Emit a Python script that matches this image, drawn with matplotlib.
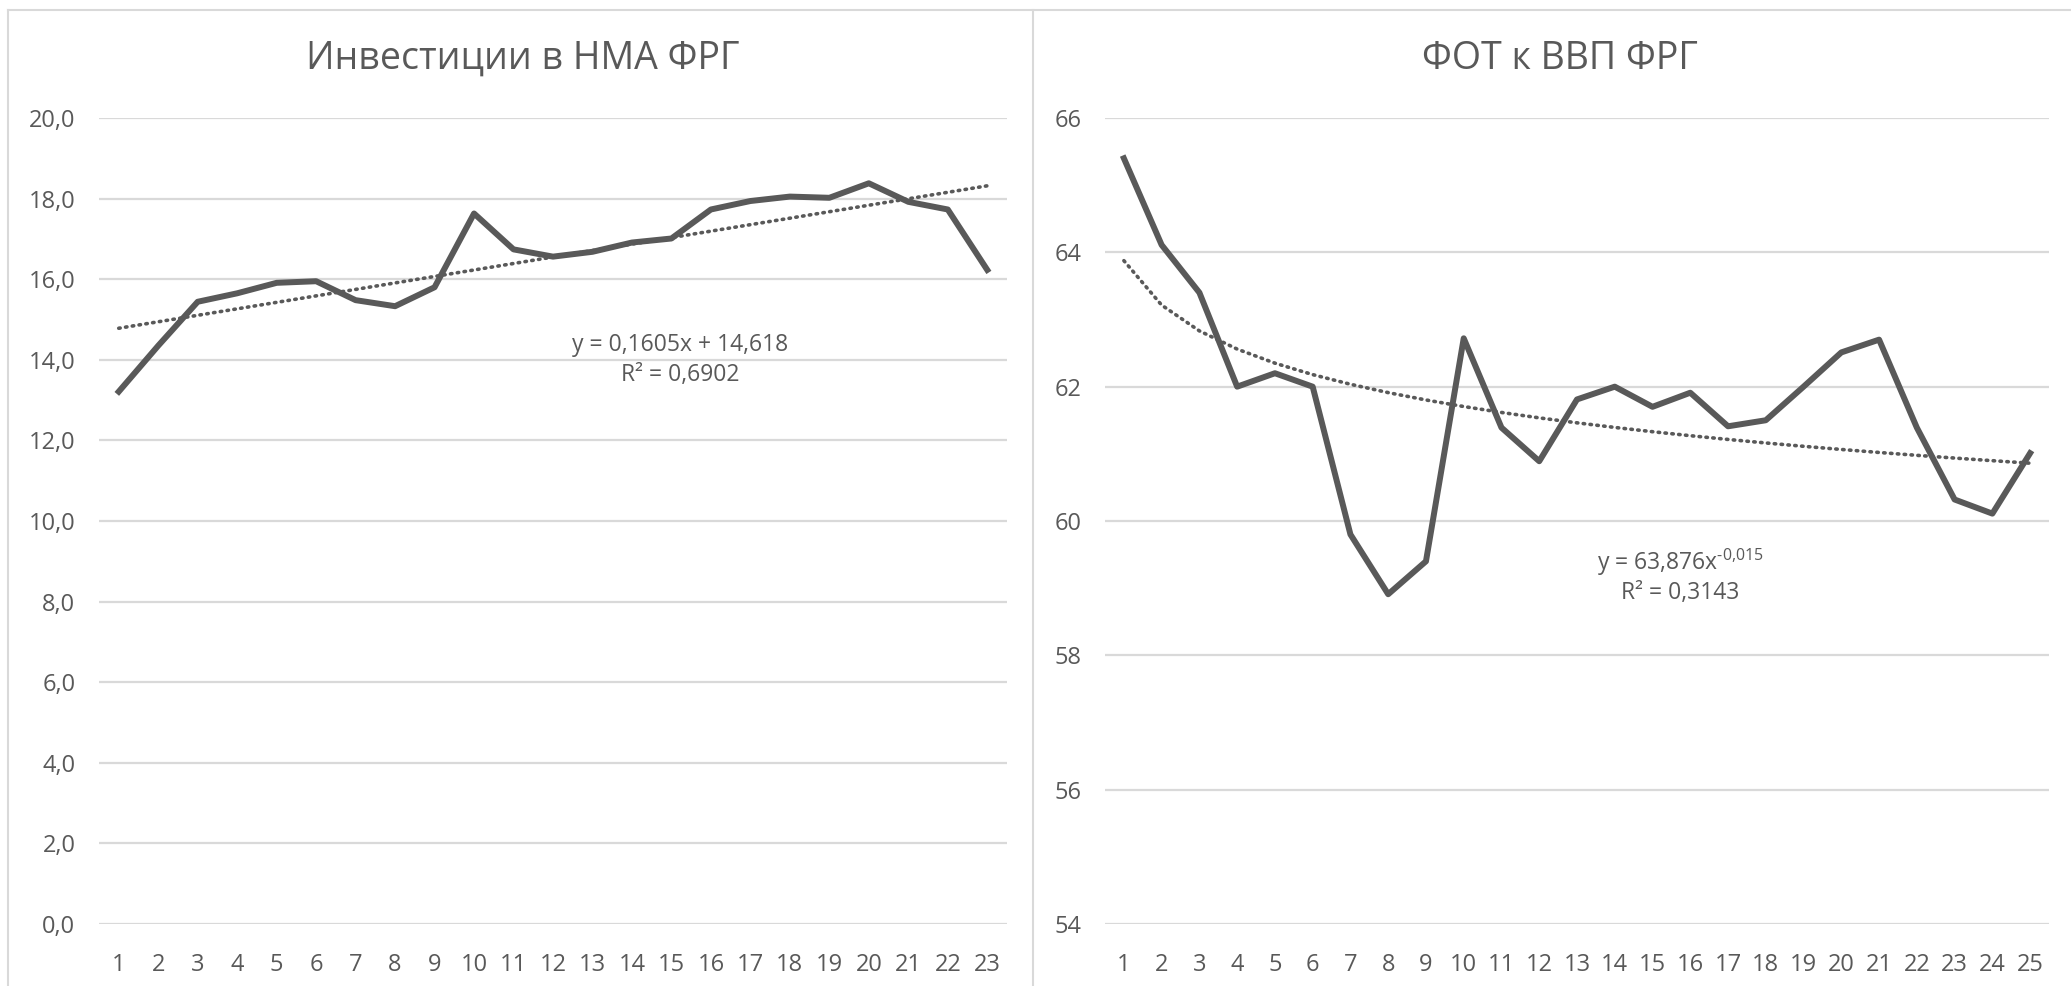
import numpy as np
import matplotlib
matplotlib.use("Agg")
import matplotlib.pyplot as plt
from matplotlib.lines import Line2D

plt.rcParams['font.family'] = ['Open Sans', 'DejaVu Sans']
plt.rcParams['mathtext.fontset'] = 'custom'
plt.rcParams['mathtext.rm'] = 'Open Sans'

# Инвестиции в НМА ФРГ
years_left = list(range(1, 24))
invest_nma = [13.21, 14.35, 15.44, 15.65, 15.91, 15.95, 15.48, 15.33, 15.80, 17.63,
              16.74, 16.56, 16.68, 16.91, 17.01, 17.73, 17.94, 18.05, 18.02, 18.38,
              17.92, 17.73, 16.23]

# ФОТ к ВВП ФРГ
years_right = list(range(1, 26))
fot_vvp = [65.40, 64.11, 63.40, 62.00, 62.20, 62.00, 59.80, 58.91, 59.40, 62.72,
           61.39, 60.89, 61.81, 62.00, 61.70, 61.91, 61.41, 61.50, 62.00, 62.51,
           62.70, 61.39, 60.32, 60.11, 61.01]

left_title = 'Инвестиции в НМА ФРГ'
right_title = 'ФОТ к ВВП ФРГ'
left_eq = 'y = 0,1605x + 14,618\nR² = 0,6902'
right_eq = r'y = 63,876x$^{\text{-0,015}}$'
right_r2 = 'R² = 0,3143'

line_col = '#595959'
grid_col = '#d9d9d9'
text_col = '#595959'

W, H = 2071, 986
fig = plt.figure(figsize=(W / 100, H / 100), dpi=100)


def px_axes(x0, x1, y_top, y_bot):
    return fig.add_axes([x0 / W, 1 - y_bot / H, (x1 - x0) / W, (y_bot - y_top) / H])


def style(ax, xs, ylim, yticks, fmt):
    ax.set_xlim(xs[0] - 0.5, xs[-1] + 0.5)
    ax.set_ylim(*ylim)
    ax.set_yticks(yticks)
    ax.set_yticklabels([fmt(v) for v in yticks])
    ax.set_xticks(xs)
    ax.set_xticklabels([str(v) for v in xs])
    for s in ax.spines.values():
        s.set_visible(False)
    ax.tick_params(length=0, labelsize=17, colors=text_col)
    ax.tick_params(axis='y', pad=17)
    ax.tick_params(axis='x', pad=21)
    ax.grid(axis='y', color=grid_col, lw=1.6)
    ax.set_axisbelow(True)


# left chart
ax1 = px_axes(99, 1007, 118, 924)
style(ax1, years_left, (0, 20), np.arange(0, 21, 2),
      lambda v: f'{v:.1f}'.replace('.', ','))
x1 = np.array(years_left, dtype=float)
k, b = np.polyfit(x1, invest_nma, 1)
ax1.plot(x1, k * x1 + b, color=line_col, lw=2.6, linestyle=(0, (0.4, 1.5)),
         dash_capstyle='round')
ax1.plot(x1, invest_nma, color=line_col, lw=4.3, solid_joinstyle='round')
ax1.text(15.22, 14.0, left_eq, ha='center', va='center', fontsize=16.5,
         color=text_col, linespacing=1.3)

# right chart
ax2 = px_axes(1105, 2049, 118, 924)
style(ax2, years_right, (54, 66), np.arange(54, 67, 2), lambda v: f'{v:d}')
x2 = np.array(years_right, dtype=float)
p, lna = np.polyfit(np.log(x2), np.log(fot_vvp), 1)
ax2.plot(x2, np.exp(lna) * x2 ** p, color=line_col, lw=2.6,
         linestyle=(0, (0.4, 1.5)), dash_capstyle='round')
ax2.plot(x2, fot_vvp, color=line_col, lw=4.3, solid_joinstyle='round')
ax2.text(15.73, 59.39, right_eq, ha='center', va='center', fontsize=16.5, color=text_col)
ax2.text(15.73, 58.93, right_r2, ha='center', va='center', fontsize=16.5, color=text_col)

# titles
fig.text(523 / W, 1 - 59 / H, left_title, ha='center', va='center',
         fontsize=27, color=text_col)
fig.text(1560 / W, 1 - 59 / H, right_title, ha='center', va='center',
         fontsize=27, color=text_col)

# chart borders
for xs, ys in [([8, 8], [10, H]), ([8, W], [10, 10]), ([1033, 1033], [10, H])]:
    fig.add_artist(Line2D([x / W for x in xs], [1 - y / H for y in ys],
                          color=grid_col, lw=1.5))

fig.savefig('out.png', dpi=100)
